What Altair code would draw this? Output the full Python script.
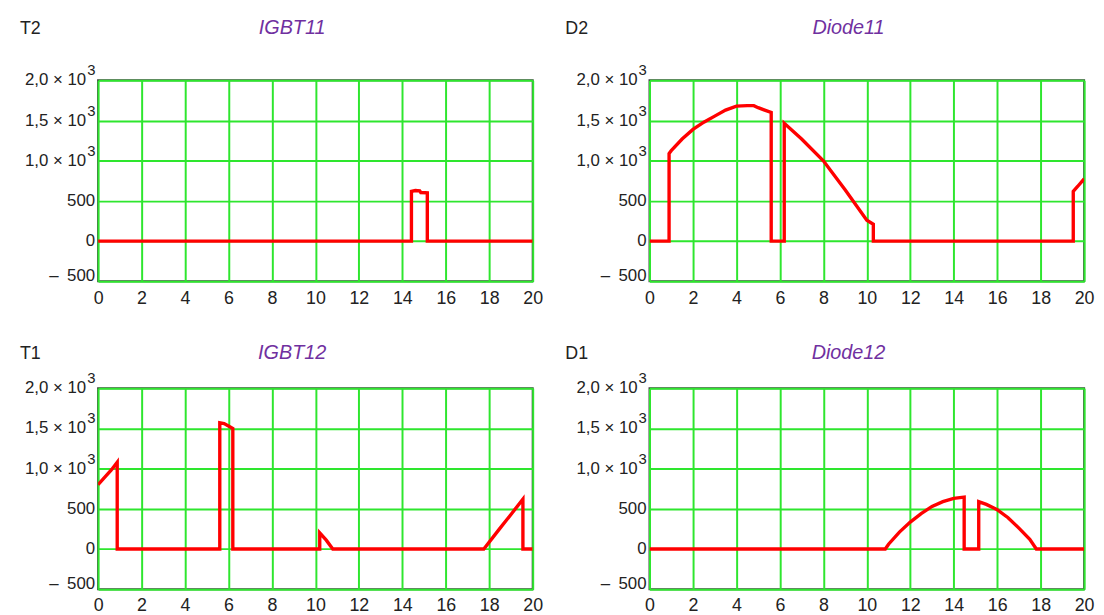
import altair as alt
import pandas as pd

# ---------------- data ----------------
X_TICKS = [0, 2, 4, 6, 8, 10, 12, 14, 16, 18, 20]
Y_GRID = [-500, 0, 500, 1000, 1500, 2000]

Y_PLAIN_VALUES = [500, 0]
Y_PLAIN_TEXT = ["500", "0"]
Y_NEG_VALUES = [-500]
Y_NEG_TEXT = ["\u2013\u2002500"]
Y_POW_VALUES = [2000, 1500, 1000]
Y_POW_TEXT = ["2,0 × 10", "1,5 × 10", "1,0 × 10"]
Y_POW_EXP = ["3", "3", "3"]

IGBT11_T = [0, 14.42, 14.42, 14.6, 14.8, 14.85, 15.15, 15.15, 20]
IGBT11_V = [0, 0, 620, 630, 625, 605, 600, 0, 0]

DIODE11_T = [0, 0.9, 0.9, 1.0, 1.5, 2.0, 2.5, 3.0, 3.5, 4.0, 4.5, 4.8, 5.0, 5.3, 5.6, 5.6,
             6.2, 6.2, 7.0, 8.0, 9.0, 10.0, 10.3, 10.3, 19.5, 19.5, 19.7, 20]
DIODE11_V = [0, 0, 1090, 1125, 1270, 1390, 1480, 1555, 1630, 1680, 1685, 1685, 1660, 1630, 1600, 0,
             0, 1465, 1270, 1000, 640, 260, 210, 0, 0, 620, 680, 775]

IGBT12_T = [0, 0.3, 0.6, 0.88, 0.88, 5.6, 5.6, 5.8, 6.0, 6.2, 6.2, 10.2, 10.2, 10.5, 10.8,
            17.75, 18.5, 19.0, 19.55, 19.55, 20]
IGBT12_V = [800, 890, 980, 1080, 0, 0, 1570, 1560, 1530, 1500, 0, 0, 200, 110, 0,
            0, 260, 430, 620, 0, 0]

DIODE12_T = [0, 10.85, 11.0, 11.5, 12.0, 12.5, 13.0, 13.5, 14.0, 14.48, 14.48, 15.15, 15.15,
             15.5, 16.0, 16.5, 17.0, 17.5, 17.8, 20]
DIODE12_V = [0, 0, 60, 210, 335, 440, 530, 590, 630, 645, 0, 0, 590,
             555, 490, 390, 260, 120, 0, 0]

# ---------------- style ----------------
FONT = "Liberation Sans"
W, H = 439, 203
RED = "#ff0000"
GREEN = "#2ee62e"
PURPLE = "#7030a0"
TXT = "#222222"

x_scale = alt.Scale(domain=[0, 20], nice=False, zero=False)
y_scale = alt.Scale(domain=[-500, 2000], nice=False, zero=False)
y_axis = alt.Axis(values=Y_GRID, grid=True, title=None, labels=False,
                  ticks=False, domain=False)


def yenc():
    return alt.Y("v:Q", scale=y_scale, axis=y_axis)


def panel(ts, vs, tag, title, tag_x, title_x, text_y):
    df = pd.DataFrame({"t": ts, "v": vs, "i": list(range(len(ts)))})
    line = alt.Chart(df).mark_line(color=RED, strokeWidth=3.4, clip=True,
                                   strokeJoin="miter").encode(
        x=alt.X("t:Q", scale=x_scale,
                axis=alt.Axis(values=X_TICKS, grid=True, title=None, labelFontSize=18,
                              labelPadding=8, labelColor=TXT, labelFont=FONT,
                              ticks=False, domain=False, labelFlush=False)),
        y=yenc(),
        order="i:Q",
    )
    plain = alt.Chart(pd.DataFrame({"v": Y_PLAIN_VALUES, "s": Y_PLAIN_TEXT})).mark_text(
        align="right", baseline="middle", font=FONT, fontSize=17, color=TXT
    ).encode(x=alt.value(-3), y=yenc(), text="s:N")
    neg = alt.Chart(pd.DataFrame({"v": Y_NEG_VALUES, "s": Y_NEG_TEXT})).mark_text(
        align="right", baseline="middle", font=FONT, fontSize=17, color=TXT, dy=-5
    ).encode(x=alt.value(-3), y=yenc(), text="s:N")
    powl = alt.Chart(pd.DataFrame({"v": Y_POW_VALUES, "s": Y_POW_TEXT, "e": Y_POW_EXP}))
    pw = powl.mark_text(
        align="right", baseline="middle", font=FONT, fontSize=17, color=TXT
    ).encode(x=alt.value(-12), y=yenc(), text="s:N")
    ex = powl.mark_text(
        align="left", baseline="middle", font=FONT, fontSize=15, color=TXT, dy=-10
    ).encode(x=alt.value(-11), y=yenc(), text="e:N")
    lab = pd.DataFrame({"tag": [tag], "title": [title]})
    tg = alt.Chart(lab).mark_text(
        align="left", baseline="alphabetic", font=FONT, fontSize=18, color=TXT
    ).encode(x=alt.value(tag_x), y=alt.value(text_y), text="tag:N")
    tt = alt.Chart(lab).mark_text(
        align="center", baseline="alphabetic", font=FONT, fontSize=20, color=PURPLE,
        fontStyle="italic"
    ).encode(x=alt.value(title_x), y=alt.value(text_y), text="title:N")
    return alt.layer(line, plain, neg, pw, ex, tg, tt).properties(width=W, height=H)


p1 = panel(IGBT11_T, IGBT11_V, "T2", "IGBT11", -79, 196, -47)
p2 = panel(DIODE11_T, DIODE11_V, "D2", "Diode11", -85, 201, -47)
p3 = panel(IGBT12_T, IGBT12_V, "T1", "IGBT12", -79, 196, -30)
p4 = panel(DIODE12_T, DIODE12_V, "D1", "Diode12", -85, 201, -30)

chart = alt.concat(p1, p2, p3, p4, columns=2).properties(
    spacing={"row": 108, "column": 118},
    bounds="flush",
    padding={"left": 11, "top": 6, "right": 0, "bottom": 0},
).configure_view(
    stroke="#404040", strokeWidth=2
).configure_axis(
    gridColor=GREEN, gridWidth=2, gridOpacity=1
)

chart.save("out.html", embed_options={"renderer": "svg", "actions": False})
